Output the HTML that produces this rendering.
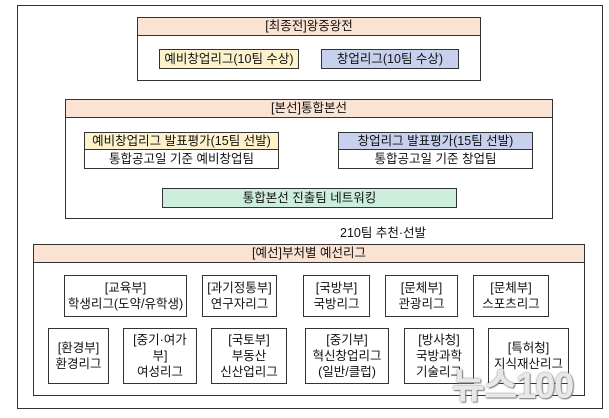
<!DOCTYPE html>
<html><head><meta charset="utf-8"><style>
body{margin:0;width:609px;height:418px;background:#fff;position:relative;overflow:hidden;font-family:"Liberation Sans","Noto Sans CJK KR","NanumGothic",sans-serif;color:#111;}
.b{position:absolute;box-sizing:border-box;border:1.5px solid #333;}
.t{position:absolute;box-sizing:border-box;display:flex;align-items:center;justify-content:center;text-align:center;font-size:12.5px;line-height:15px;}
.h{background:#fbe3d4;border-bottom:1px solid #333;}
.bx{position:absolute;box-sizing:border-box;border:1.5px solid #333;display:flex;flex-direction:column;align-items:center;justify-content:center;text-align:center;font-size:12.5px;line-height:16px;background:#fff;}
</style></head><body>
<div class="b" style="left:17px;top:5px;width:586px;height:404px;"></div>

<div class="b" style="left:137px;top:17px;width:344px;height:64px;"></div>
<div class="t h" style="left:138px;top:18px;width:342px;height:18px;">[최종전]왕중왕전</div>
<div class="t" style="left:159px;top:49px;width:140px;height:20px;background:#fdf2cc;border:1px solid #333;">예비창업리그(10팀 수상)</div>
<div class="t" style="left:321px;top:49px;width:138px;height:20px;background:#c7d1ee;border:1px solid #333;">창업리그(10팀 수상)</div>

<div class="b" style="left:65px;top:99px;width:488px;height:120px;"></div>
<div class="t h" style="left:66px;top:100px;width:486px;height:18px;">[본선]통합본선</div>
<div class="b" style="left:84px;top:132px;width:195px;height:37px;"></div>
<div class="t" style="left:85px;top:133px;width:193px;height:17px;background:#fdf2cc;border-bottom:1px solid #333;">예비창업리그 발표평가(15팀 선발)</div>
<div class="t" style="left:85px;top:150px;width:193px;height:18px;">통합공고일 기준 예비창업팀</div>
<div class="b" style="left:338px;top:132px;width:195px;height:37px;"></div>
<div class="t" style="left:339px;top:133px;width:193px;height:17px;background:#c7d1ee;border-bottom:1px solid #333;">창업리그 발표평가(15팀 선발)</div>
<div class="t" style="left:339px;top:150px;width:193px;height:18px;">통합공고일 기준 창업팀</div>
<div class="t" style="left:162px;top:188px;width:295px;height:20px;background:#cdeedd;border:1px solid #333;">통합본선 진출팀 네트워킹</div>

<div class="t" style="left:330px;top:225px;width:106px;height:16px;">210팀 추천·선발</div>

<div class="b" style="left:33px;top:244px;width:552px;height:152px;"></div>
<div class="t h" style="left:34px;top:245px;width:550px;height:18px;">[예선]부처별 예선리그</div>

<div class="bx" style="left:64px;top:275px;width:123px;height:42px;"><div>[교육부]</div><div>학생리그(도약/유학생)</div></div>
<div class="bx" style="left:202px;top:275px;width:75px;height:42px;"><div>[과기정통부]</div><div>연구자리그</div></div>
<div class="bx" style="left:303px;top:275px;width:67px;height:42px;"><div>[국방부]</div><div>국방리그</div></div>
<div class="bx" style="left:385px;top:275px;width:73px;height:42px;"><div>[문체부]</div><div>관광리그</div></div>
<div class="bx" style="left:473px;top:275px;width:76px;height:42px;"><div>[문체부]</div><div>스포츠리그</div></div>

<div class="bx" style="left:48px;top:328px;width:61px;height:56px;"><div>[환경부]</div><div>환경리그</div></div>
<div class="bx" style="left:123px;top:328px;width:74px;height:56px;"><div>[중기·여가</div><div>부]</div><div>여성리그</div></div>
<div class="bx" style="left:211px;top:328px;width:76px;height:56px;"><div>[국토부]</div><div>부동산</div><div>신산업리그</div></div>
<div class="bx" style="left:305px;top:328px;width:84px;height:56px;"><div>[중기부]</div><div>혁신창업리그</div><div>(일반/클럽)</div></div>
<div class="bx" style="left:404px;top:328px;width:70px;height:56px;"><div>[방사청]</div><div>국방과학</div><div>기술리그</div></div>
<div class="bx" style="left:488px;top:328px;width:81px;height:56px;"><div>[특허청]</div><div>지식재산리그</div></div>

<div style="position:absolute;left:452px;top:366px;font-size:36px;line-height:40px;color:#e8e8e8;font-weight:bold;text-shadow:0 0 2px #777,1px 1px 1px #888;letter-spacing:-1px;">뉴스100</div>
</body></html>
